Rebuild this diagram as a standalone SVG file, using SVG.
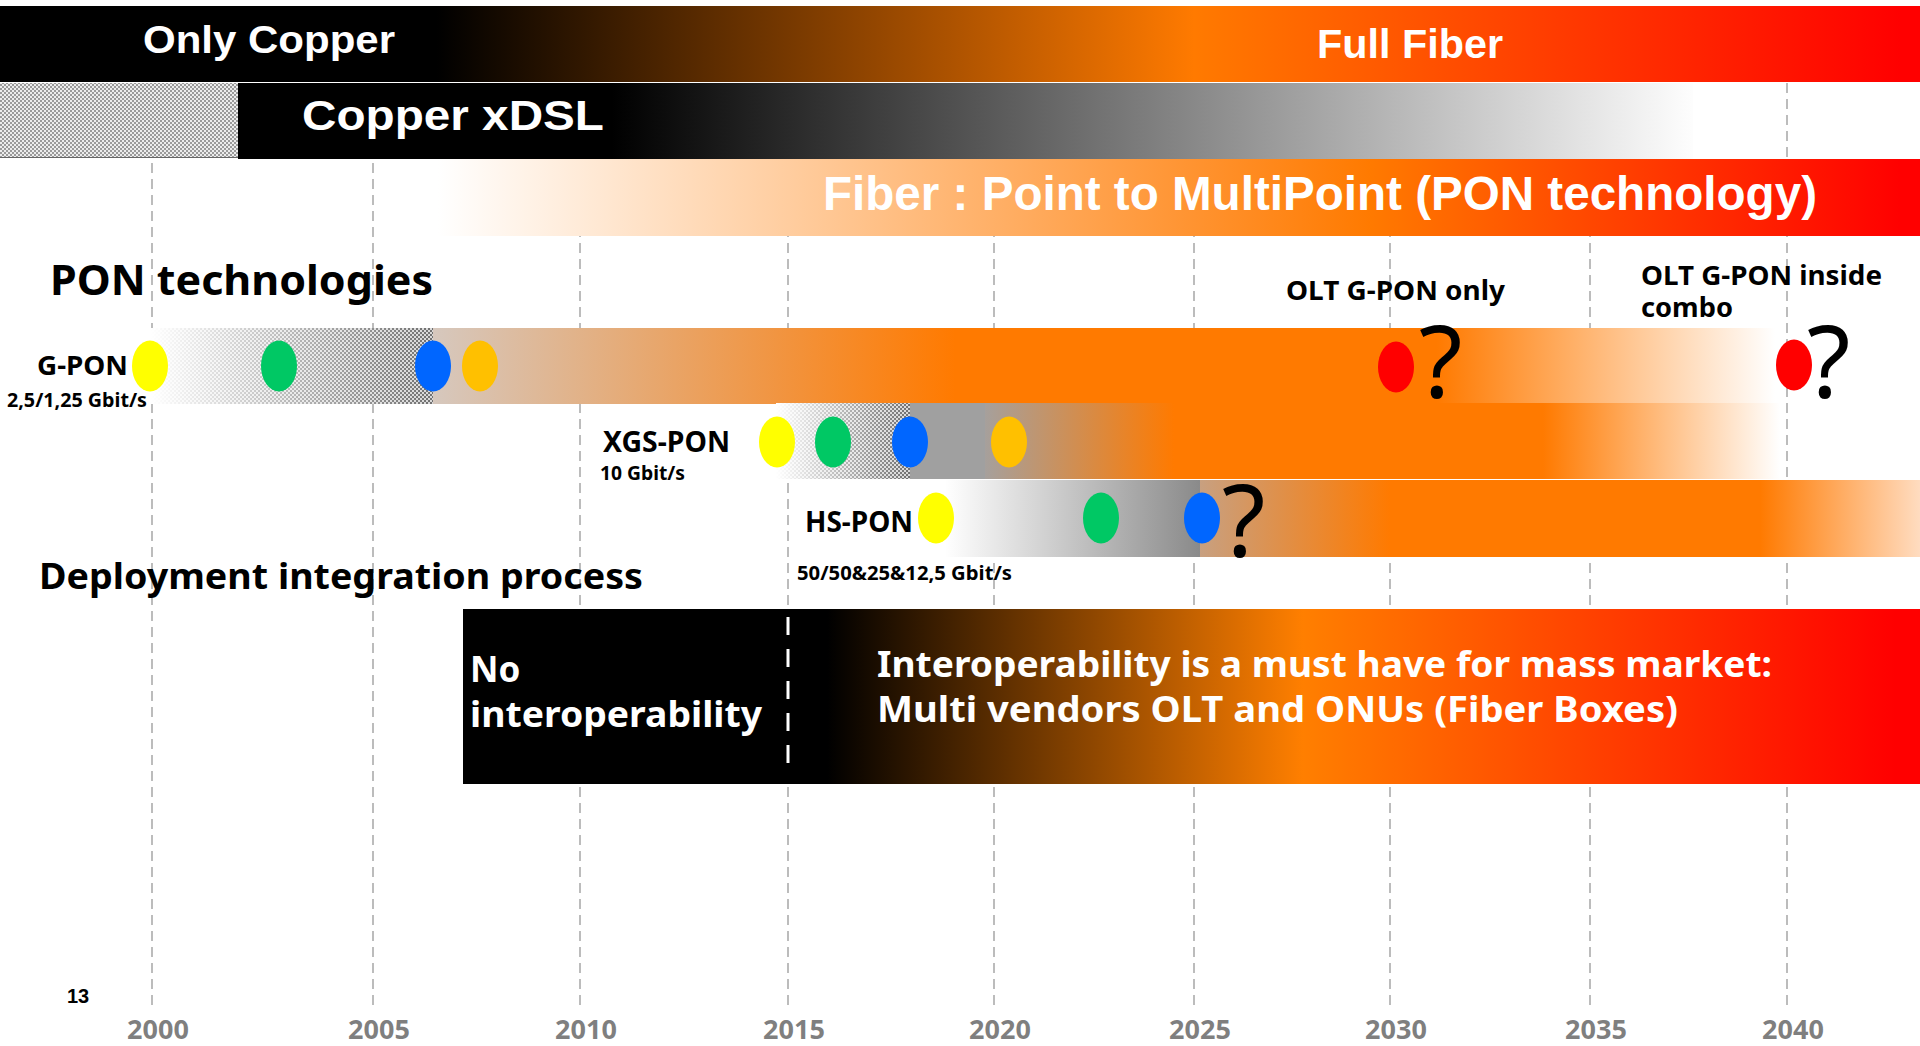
<svg xmlns="http://www.w3.org/2000/svg" width="1920" height="1046" viewBox="0 0 1920 1046">
<defs>
<style>
.grid{stroke:#A6A6A6;stroke-width:1.5;stroke-dasharray:10 6;fill:none}
.ar{font-family:"Liberation Sans",Arial,sans-serif;font-weight:bold;fill:#fff}
.ns{font-family:"Noto Sans","Open Sans",sans-serif;font-weight:bold;fill:#000}
.wt{fill:#fff}
.yr{font-family:"Noto Sans","Open Sans",sans-serif;font-weight:bold;fill:#7F7F7F;font-size:27px;text-anchor:middle}
.q{font-family:"Noto Sans","Open Sans",sans-serif;font-size:100px;fill:#000}
.dot{stroke:none}
</style>
<pattern id="chk" width="4" height="4" patternUnits="userSpaceOnUse">
<rect width="4" height="4" fill="#d8d8d8"/>
<rect width="2" height="2" fill="#707070"/>
<rect x="2" y="2" width="2" height="2" fill="#707070"/>
</pattern>
<pattern id="chk2" width="4" height="4" patternUnits="userSpaceOnUse">
<rect width="4" height="4" fill="#ececec"/>
<rect width="2" height="2" fill="#9a9a9a"/>
<rect x="2" y="2" width="2" height="2" fill="#9a9a9a"/>
</pattern>
<linearGradient id="gTop" gradientUnits="userSpaceOnUse" x1="0" y1="0" x2="1920" y2="0">
<stop offset="0.2276" stop-color="#000"/>
<stop offset="0.5" stop-color="#B05400"/>
<stop offset="0.622" stop-color="#FF7A00"/>
<stop offset="0.99" stop-color="#FF0000"/>
</linearGradient>
<linearGradient id="gDsl" gradientUnits="userSpaceOnUse" x1="612" y1="0" x2="1700" y2="0">
<stop offset="0" stop-color="#000"/>
<stop offset="1" stop-color="#fff"/>
</linearGradient>
<linearGradient id="gPon" gradientUnits="userSpaceOnUse" x1="438" y1="0" x2="1900" y2="0">
<stop offset="0" stop-color="#fff"/>
<stop offset="0.6375" stop-color="#FF7A00"/>
<stop offset="1" stop-color="#FF0000"/>
</linearGradient>
<linearGradient id="gG" gradientUnits="userSpaceOnUse" x1="433" y1="0" x2="1775" y2="0">
<stop offset="0" stop-color="#D6C8BE"/>
<stop offset="0.389" stop-color="#FF7A00"/>
<stop offset="0.748" stop-color="#FF7A00"/>
<stop offset="1" stop-color="#fff"/>
</linearGradient>
<linearGradient id="gX" gradientUnits="userSpaceOnUse" x1="985" y1="0" x2="1780" y2="0">
<stop offset="0" stop-color="#A6A09C"/>
<stop offset="0.238" stop-color="#FF7A00"/>
<stop offset="0.702" stop-color="#FF7A00"/>
<stop offset="1" stop-color="#fff"/>
</linearGradient>
<linearGradient id="gH1" gradientUnits="userSpaceOnUse" x1="945" y1="0" x2="1200" y2="0">
<stop offset="0" stop-color="#fff"/>
<stop offset="1" stop-color="#8A8A8A"/>
</linearGradient>
<linearGradient id="gH2" gradientUnits="userSpaceOnUse" x1="1200" y1="0" x2="1920" y2="0">
<stop offset="0" stop-color="#C8A080"/>
<stop offset="0.264" stop-color="#FF7A00"/>
<stop offset="0.778" stop-color="#FF7A00"/>
<stop offset="1" stop-color="#FFDCC0"/>
</linearGradient>
<linearGradient id="gBox" gradientUnits="userSpaceOnUse" x1="463" y1="0" x2="1920" y2="0">
<stop offset="0.25" stop-color="#000"/>
<stop offset="0.5765" stop-color="#FF7F00"/>
<stop offset="0.983" stop-color="#FF0000"/>
</linearGradient>
<linearGradient id="mgG" gradientUnits="userSpaceOnUse" x1="151" y1="0" x2="433" y2="0">
<stop offset="0" stop-color="#000"/>
<stop offset="1" stop-color="#fff"/>
</linearGradient>
<linearGradient id="mgX" gradientUnits="userSpaceOnUse" x1="776" y1="0" x2="910" y2="0">
<stop offset="0" stop-color="#000"/>
<stop offset="1" stop-color="#fff"/>
</linearGradient>
<mask id="mG" maskUnits="userSpaceOnUse" x="0" y="0" width="1920" height="1046">
<rect x="151" y="328" width="282" height="76" fill="url(#mgG)"/>
</mask>
<mask id="mX" maskUnits="userSpaceOnUse" x="0" y="0" width="1920" height="1046">
<rect x="776" y="403" width="134" height="76" fill="url(#mgX)"/>
</mask>
</defs>

<rect width="1920" height="1046" fill="#fff"/>

<g id="gridlines">
<line class="grid" x1="152" y1="83" x2="152" y2="1008"/>
<line class="grid" x1="373" y1="83" x2="373" y2="1008"/>
<line class="grid" x1="580" y1="83" x2="580" y2="1008"/>
<line class="grid" x1="788" y1="83" x2="788" y2="1008"/>
<line class="grid" x1="994" y1="83" x2="994" y2="1008"/>
<line class="grid" x1="1194" y1="83" x2="1194" y2="1008"/>
<line class="grid" x1="1390" y1="83" x2="1390" y2="1008"/>
<line class="grid" x1="1590" y1="83" x2="1590" y2="1008"/>
<line class="grid" x1="1787" y1="83" x2="1787" y2="1008"/>
</g>

<g id="bar-full-fiber">
<rect x="0" y="6" width="1920" height="76" fill="url(#gTop)"/>
<text class="ar" x="143" y="53" font-size="38" textLength="252" lengthAdjust="spacingAndGlyphs">Only Copper</text>
<text class="ar" x="1317" y="58" font-size="41" textLength="186" lengthAdjust="spacingAndGlyphs">Full Fiber</text>
</g>

<g id="bar-xdsl">
<rect x="0" y="83" width="238" height="75" fill="url(#chk2)"/>
<line x1="0" y1="157.5" x2="238" y2="157.5" stroke="#666" stroke-width="1"/>
<rect x="238" y="83" width="1455" height="76" fill="url(#gDsl)"/>
<text class="ar" x="302" y="130" font-size="42" textLength="302" lengthAdjust="spacingAndGlyphs">Copper xDSL</text>
</g>

<g id="bar-pon">
<rect x="438" y="159" width="1482" height="77" fill="url(#gPon)"/>
<text class="ar" x="823" y="210" font-size="48" textLength="994" lengthAdjust="spacingAndGlyphs">Fiber : Point to MultiPoint (PON technology)</text>
</g>

<g id="title-pon">
<text class="ns" x="50" y="295" font-size="41" textLength="383" lengthAdjust="spacingAndGlyphs">PON technologies</text>
</g>

<g id="bar-gpon">
<rect x="151" y="328" width="282" height="76" fill="#fff"/>
<rect x="151" y="328" width="282" height="76" fill="url(#chk)" mask="url(#mG)"/>
<rect x="433" y="328" width="1347" height="76" fill="url(#gG)"/>
<text class="ns" x="37" y="375" font-size="27" textLength="91" lengthAdjust="spacingAndGlyphs">G-PON</text>
<text class="ns" x="7" y="407" font-size="19" textLength="140" lengthAdjust="spacingAndGlyphs">2,5/1,25 Gbit/s</text>
<ellipse class="dot" cx="150" cy="366" rx="18" ry="25.5" fill="#FFFF00"/>
<ellipse class="dot" cx="279" cy="366" rx="18" ry="25.5" fill="#00C864"/>
<ellipse class="dot" cx="433" cy="366" rx="18" ry="25.5" fill="#0066FF"/>
<ellipse class="dot" cx="480" cy="366" rx="18" ry="25.5" fill="#FFC000"/>
<ellipse class="dot" cx="1396" cy="367" rx="18" ry="25.5" fill="#FF0000"/>
<text class="q" x="1419" y="398">?</text>
<ellipse class="dot" cx="1794" cy="365" rx="18" ry="25.5" fill="#FF0000"/>
<text class="q" x="1807" y="398">?</text>
</g>

<g id="bar-xgspon">
<rect x="776" y="403" width="134" height="76" fill="#fff"/>
<rect x="776" y="403" width="134" height="76" fill="url(#chk)" mask="url(#mX)"/>
<rect x="910" y="403" width="75" height="76" fill="#A0A0A0"/>
<rect x="985" y="403" width="795" height="76" fill="url(#gX)"/>
<text class="ns" x="603" y="452" font-size="28" textLength="127" lengthAdjust="spacingAndGlyphs">XGS-PON</text>
<text class="ns" x="600" y="480" font-size="19" textLength="85" lengthAdjust="spacingAndGlyphs">10 Gbit/s</text>
<ellipse class="dot" cx="777" cy="442" rx="18" ry="25.5" fill="#FFFF00"/>
<ellipse class="dot" cx="833" cy="442" rx="18" ry="25.5" fill="#00C864"/>
<ellipse class="dot" cx="910" cy="442" rx="18" ry="25.5" fill="#0066FF"/>
<ellipse class="dot" cx="1009" cy="442" rx="18" ry="25.5" fill="#FFC000"/>
</g>

<g id="bar-hspon">
<rect x="945" y="480" width="255" height="77" fill="url(#gH1)"/>
<rect x="1200" y="480" width="720" height="77" fill="url(#gH2)"/>
<text class="ns" x="805" y="532" font-size="28" textLength="108" lengthAdjust="spacingAndGlyphs">HS-PON</text>
<text class="ns" x="797" y="580" font-size="20" textLength="215" lengthAdjust="spacingAndGlyphs">50/50&amp;25&amp;12,5 Gbit/s</text>
<ellipse class="dot" cx="936" cy="518" rx="18" ry="25.5" fill="#FFFF00"/>
<ellipse class="dot" cx="1101" cy="518" rx="18" ry="25.5" fill="#00C864"/>
<ellipse class="dot" cx="1202" cy="518" rx="18" ry="25.5" fill="#0066FF"/>
<text class="q" x="1222" y="557">?</text>
</g>

<g id="labels-olt">
<text class="ns" x="1286" y="300" font-size="27" textLength="219" lengthAdjust="spacingAndGlyphs">OLT G-PON only</text>
<text class="ns" font-size="27"><tspan x="1641" y="285" textLength="241" lengthAdjust="spacingAndGlyphs">OLT G-PON inside</tspan><tspan x="1641" y="317" textLength="92" lengthAdjust="spacingAndGlyphs">combo</tspan></text>
</g>

<g id="title-deployment">
<text class="ns" x="39" y="589" font-size="36" textLength="604" lengthAdjust="spacingAndGlyphs">Deployment integration process</text>
</g>

<g id="box-interop">
<rect x="463" y="609" width="1457" height="175" fill="url(#gBox)"/>
<line x1="788" y1="617" x2="788" y2="765" stroke="#fff" stroke-width="3" stroke-dasharray="18 14"/>
<text class="ns wt" x="470" y="682" font-size="35">No</text>
<text class="ns wt" x="470" y="727" font-size="35" textLength="292" lengthAdjust="spacingAndGlyphs">interoperability</text>
<text class="ns wt" x="877" y="677" font-size="35" textLength="895" lengthAdjust="spacingAndGlyphs">Interoperability is a must have for mass market:</text>
<text class="ns wt" x="877" y="722" font-size="35" textLength="801" lengthAdjust="spacingAndGlyphs">Multi vendors OLT and ONUs (Fiber Boxes)</text>
</g>

<g id="page-number">
<text x="67" y="1003" font-family="Liberation Sans, Arial, sans-serif" font-weight="bold" font-size="20" fill="#000">13</text>
</g>

<g id="years">
<text class="yr" x="158" y="1039">2000</text>
<text class="yr" x="379" y="1039">2005</text>
<text class="yr" x="586" y="1039">2010</text>
<text class="yr" x="794" y="1039">2015</text>
<text class="yr" x="1000" y="1039">2020</text>
<text class="yr" x="1200" y="1039">2025</text>
<text class="yr" x="1396" y="1039">2030</text>
<text class="yr" x="1596" y="1039">2035</text>
<text class="yr" x="1793" y="1039">2040</text>
</g>
</svg>
